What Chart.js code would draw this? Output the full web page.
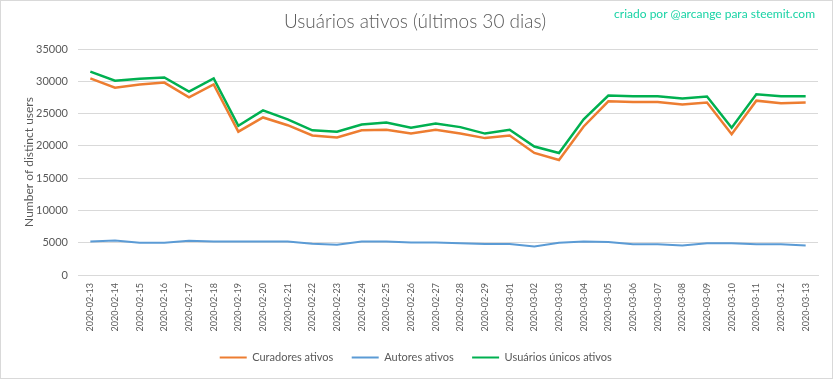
<!DOCTYPE html>
<html>
<head>
<meta charset="utf-8">
<script src="https://cdn.jsdelivr.net/npm/chart.js@4/dist/chart.umd.min.js"></script>
<style>
  html, body { margin: 0; padding: 0; background: #ffffff; }
  #wrap { position: relative; width: 833px; height: 379px; box-sizing: border-box; border: 1px solid #d9d9d9; }
  canvas { display: block; }
</style>
</head>
<body>
<div id="wrap"><canvas id="c" width="831" height="377"></canvas></div>
<script>
const categories = ["2020-02-13","2020-02-14","2020-02-15","2020-02-16","2020-02-17","2020-02-18","2020-02-19","2020-02-20","2020-02-21","2020-02-22","2020-02-23","2020-02-24","2020-02-25","2020-02-26","2020-02-27","2020-02-28","2020-02-29","2020-03-01","2020-03-02","2020-03-03","2020-03-04","2020-03-05","2020-03-06","2020-03-07","2020-03-08","2020-03-09","2020-03-10","2020-03-11","2020-03-12","2020-03-13"];
const curadores = [30450,29000,29500,29800,27500,29500,22200,24400,23200,21600,21300,22400,22500,21900,22500,21900,21200,21600,18900,17800,23000,26900,26800,26800,26400,26700,21800,27000,26600,26700];
const autores = [5200,5350,5000,5000,5300,5200,5200,5200,5200,4850,4700,5200,5200,5050,5050,4900,4800,4800,4400,5000,5200,5100,4750,4750,4550,4900,4900,4750,4750,4550];
const unicos = [31500,30100,30400,30600,28400,30450,23100,25500,24100,22400,22200,23300,23600,22800,23450,22900,21900,22500,19900,18900,24100,27800,27700,27700,27350,27650,22800,28000,27700,27700];
const yTicks = [0,5000,10000,15000,20000,25000,30000,35000];
const chartTitle = "Usuários ativos (últimos 30 dias)";
const credit = "criado por @arcange para steemit.com";
const yTitle = "Number of distinct users";

const FONT = "Lato";
const GREY = "#595959";

const overlay = {
  id: 'overlay',
  afterDraw(chart) {
    const ctx = chart.ctx;
    ctx.save();
    ctx.fillStyle = GREY;
    ctx.font = "300 19px " + FONT;
    ctx.textAlign = "center";
    ctx.textBaseline = "middle";
    ctx.fillText(chartTitle, 414, 21);
    ctx.fillStyle = "#19d3a5";
    ctx.font = "12px " + FONT;
    ctx.textAlign = "right";
    ctx.fillText(credit, 814, 13);
    ctx.restore();
  }
};

new Chart(document.getElementById('c'), {
  type: 'line',
  data: {
    labels: categories,
    datasets: [
      { label: "Curadores ativos", data: curadores, borderColor: "#ED7D31", backgroundColor: "#ED7D31", borderWidth: 2.5, pointRadius: 0, tension: 0, order: 2 },
      { label: "Autores ativos", data: autores, borderColor: "#5B9BD5", backgroundColor: "#5B9BD5", borderWidth: 2, pointRadius: 0, tension: 0, order: 3 },
      { label: "Usuários únicos ativos", data: unicos, borderColor: "#00B050", backgroundColor: "#00B050", borderWidth: 2.5, pointRadius: 0, tension: 0, order: 1 }
    ]
  },
  options: {
    responsive: false,
    animation: false,
    layout: { padding: { left: 21, right: 14, top: 48, bottom: 5 } },
    plugins: {
      title: { display: false },
      tooltip: { enabled: false },
      legend: {
        position: 'bottom',
        labels: {
          boxWidth: 27, boxHeight: 2, color: GREY,
          font: { family: FONT, size: 11 },
          padding: 10,
          sort: (a, b) => a.datasetIndex - b.datasetIndex,
          generateLabels(chart) {
            const items = Chart.defaults.plugins.legend.labels.generateLabels(chart);
            items.forEach(it => { it.text = it.text + "   "; it.lineWidth = 0; it.strokeStyle = it.fillStyle; });
            return items;
          }
        }
      }
    },
    scales: {
      x: {
        offset: true,
        grid: { display: false, drawTicks: false },
        border: { display: true, color: "#d9d9d9" },
        ticks: { color: GREY, font: { family: FONT, size: 9 }, minRotation: 90, maxRotation: 90, autoSkip: false, padding: 8 },
        afterFit(s) { s.height = 67; }
      },
      y: {
        min: 0, max: 35000,
        afterBuildTicks(s) { s.ticks = yTicks.map(v => ({ value: v })); },
        grid: { color: "#d9d9d9", drawTicks: false },
        border: { display: false },
        ticks: { color: GREY, font: { family: FONT, size: 11 }, padding: 10, callback: v => String(v) },
        title: { display: true, text: yTitle, color: GREY, font: { family: FONT, size: 12 }, padding: 0 },
        afterFit(s) { s.width = 56; }
      }
    }
  },
  plugins: [overlay]
});
</script>
</body>
</html>
